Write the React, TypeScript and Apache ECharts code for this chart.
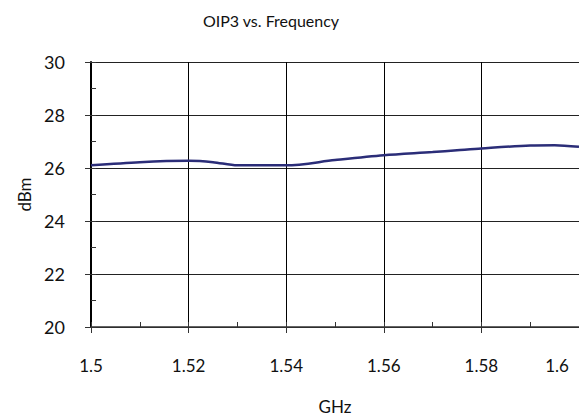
import React, { useEffect, useRef } from "react";
import * as echarts from "echarts";

// OIP3 measurement across the band
const freqGHz = [1.5, 1.51, 1.52, 1.525, 1.53, 1.54, 1.55, 1.56, 1.57, 1.575, 1.58, 1.59, 1.595, 1.6];
const oip3dBm = [26.1, 26.22, 26.27, 26.22, 26.1, 26.1, 26.3, 26.48, 26.6, 26.67, 26.74, 26.85, 26.86, 26.8];

const xMin = 1.5;
const xMax = 1.6;
const xStep = 0.02;
const yMin = 20;
const yMax = 30;
const yStep = 2;

const FONT = "Lato, 'Open Sans', sans-serif";

export default function App() {
  const ref = useRef<HTMLDivElement>(null);

  useEffect(() => {
    if (!ref.current) return;
    const chart = echarts.init(ref.current, null, { renderer: "svg" });
    const isMax = (v: number) => Math.abs(v - xMax) < 1e-9;
    chart.setOption({
      animation: false,
      backgroundColor: "#ffffff",
      title: {
        text: "OIP3 vs. Frequency",
        left: 266,
        top: 7,
        textAlign: "center",
        textStyle: { fontFamily: FONT, fontSize: 16, fontWeight: "normal", color: "#111" },
      },
      grid: { left: 91, right: 0, top: 62, bottom: 87, containLabel: false },
      xAxis: [
        {
          type: "value",
          min: xMin,
          max: xMax,
          interval: xStep,
          name: "GHz",
          nameLocation: "middle",
          nameGap: 71,
          nameTextStyle: { fontFamily: FONT, fontSize: 17, color: "#111" },
          axisLine: { show: true, onZero: false, lineStyle: { color: "#333", width: 1.5 } },
          axisTick: { show: true, inside: false, length: 6, lineStyle: { color: "#333", width: 1 } },
          axisLabel: {
            margin: 30,
            fontFamily: FONT,
            fontSize: 17,
            color: "#111",
            formatter: (v: number) => (isMax(v) ? "{m|" + String(+v.toFixed(2)) + "}" : String(+v.toFixed(2))),
            rich: { m: { fontFamily: FONT, fontSize: 17, color: "#111", padding: [0, 44, 0, 0] } },
          },
          splitLine: { show: true, lineStyle: { color: "#000", width: 1 } },
        },
        {
          type: "value",
          min: xMin,
          max: xMax,
          interval: xStep / 2,
          position: "bottom",
          axisLine: { show: false },
          axisTick: { show: true, inside: true, length: 5, lineStyle: { color: "#333", width: 1 } },
          axisLabel: { show: false },
          splitLine: { show: false },
        },
      ],
      yAxis: [
        {
          type: "value",
          min: yMin,
          max: yMax,
          interval: yStep,
          name: "dBm",
          nameLocation: "middle",
          nameGap: 56,
          nameTextStyle: { fontFamily: FONT, fontSize: 17, color: "#111" },
          axisLine: { show: true, onZero: false, lineStyle: { color: "#000", width: 2 } },
          axisTick: { show: true, inside: false, length: 6, lineStyle: { color: "#333", width: 1 } },
          axisLabel: { margin: 26, fontFamily: FONT, fontSize: 18, color: "#111" },
          splitLine: { show: true, lineStyle: { color: "#222", width: 1 } },
        },
        {
          type: "value",
          min: yMin,
          max: yMax,
          interval: yStep / 2,
          position: "left",
          axisLine: { show: false },
          axisTick: { show: true, inside: true, length: 5, lineStyle: { color: "#333", width: 1 } },
          axisLabel: { show: false },
          splitLine: { show: false },
        },
      ],
      series: [
        {
          type: "line",
          xAxisIndex: 0,
          yAxisIndex: 0,
          data: freqGHz.map((f, i) => [f, oip3dBm[i]]),
          smooth: 0.3,
          showSymbol: false,
          lineStyle: { color: "#2b2d78", width: 2.5 },
        },
      ],
    });
    return () => chart.dispose();
  }, []);

  return <div ref={ref} style={{ width: 579, height: 420, position: "absolute", left: 0, top: 0 }} />;
}
